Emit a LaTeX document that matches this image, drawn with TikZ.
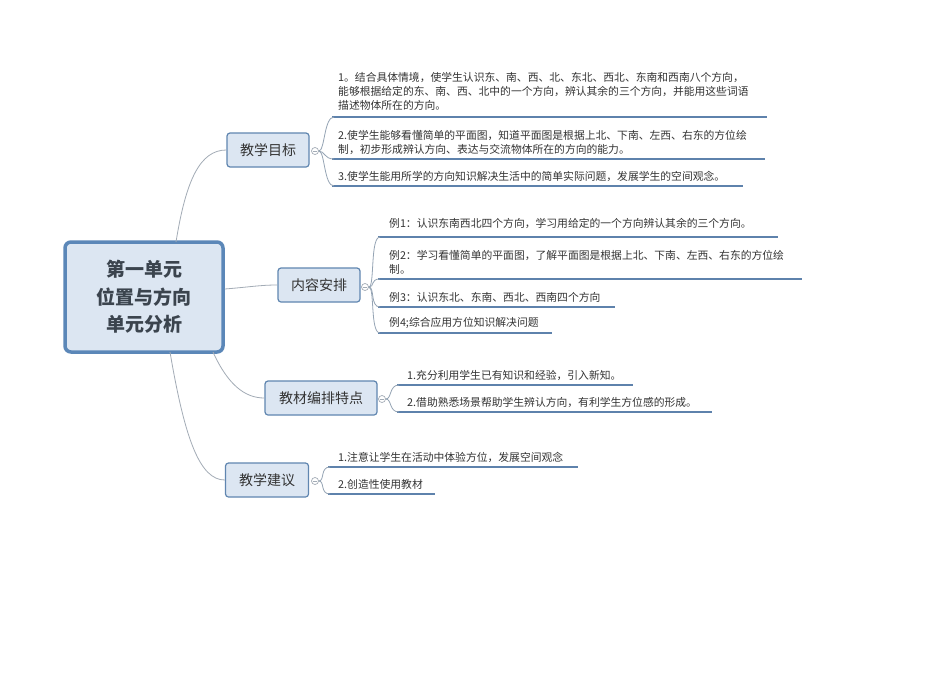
\documentclass[tikz,border=0pt]{standalone}
\usepackage{fontspec}
\newfontfamily\cjk{Noto Sans CJK SC}
\definecolor{boxfill}{HTML}{DCE6F2}
\definecolor{boxline}{HTML}{5B87B8}
\definecolor{uline}{HTML}{5E82AC}
\definecolor{conn}{HTML}{A3ACB6}
\definecolor{txt}{HTML}{333333}
\tikzset{
  rootbox/.style={draw=boxline, line width=3.5pt, fill=boxfill, rounded corners=6pt,
    minimum width=158pt, minimum height=110pt, align=center, font=\cjk\fontsize{19}{27.5}\selectfont\bfseries, text=txt!80!boxline},
  branchbox/.style={draw=boxline!85!gray, line width=1.2pt, fill=boxfill, rounded corners=3pt,
    minimum height=34pt, inner xsep=9pt, font=\cjk\fontsize{14}{16}\selectfont, text=txt},
  leaf/.style={anchor=south west, inner xsep=6pt, inner ysep=4.5pt, align=left,
    font=\cjk\fontsize{10.8}{14}\selectfont, text=txt},
  uln/.style={draw=uline, line width=2.2pt},
  conline/.style={draw=conn, line width=0.8pt},
  brk/.style={draw=conn!80!uline, line width=0.8pt},
  fold/.style={circle, draw=conn, line width=0.7pt, fill=white, minimum size=7pt, inner sep=0pt,
    path picture={\draw[conn, line width=0.6pt] ([xshift=-2pt]path picture bounding box.center) -- ([xshift=2pt]path picture bounding box.center);}},
}
\begin{document}
\begin{tikzpicture}[x=1pt,y=-1pt]
\useasboundingbox[fill=white] (0,0) rectangle (950,672);

% root
\node[rootbox] (root) at (144,297) {第一单元\\位置与方向\\单元分析};

% branches
\node[branchbox, minimum width=82pt] (b1) at (268,150) {教学目标};
\node[branchbox, minimum width=82pt] (b2) at (319,285) {内容安排};
\node[branchbox, minimum width=112pt] (b3) at (321,398) {教材编排特点};
\node[branchbox, minimum width=83pt] (b4) at (267,480) {教学建议};

\draw[conline] (176,242) .. controls (186,180) and (200,150) .. (b1.west);
\draw[conline] (root.east |- 0,289) .. controls (250,287) and (260,285) .. (b2.west);
\draw[conline] (213,352) .. controls (228,385) and (245,398) .. (b3.west);
\draw[conline] (170,352) .. controls (185,440) and (200,480) .. (b4.west);

% fold markers
\node[fold] (f1) at (315,151) {};
\node[fold] (f2) at (365,287) {};
\node[fold] (f3) at (382,399) {};
\node[fold] (f4) at (315,481) {};

% leaves of b1
\node[leaf, text width=423pt, inner ysep=6.5pt] (l11) at (332,117) {1。结合具体情境，使学生认识东、南、西、北、东北、西北、东南和西南八个方向，\\能够根据给定的东、南、西、北中的一个方向，辨认其余的三个方向，并能用这些词语\\描述物体所在的方向。};
\node[leaf, text width=421pt] (l12) at (332,159) {2.使学生能够看懂简单的平面图，知道平面图是根据上北、下南、左西、右东的方位绘\\制，初步形成辨认方向、表达与交流物体所在的方向的能力。};
\node[leaf, text width=399pt] (l13) at (332,186) {3.使学生能用所学的方向知识解决生活中的简单实际问题，发展学生的空间观念。};

% leaves of b2
\node[leaf, text width=378pt, inner xsep=11pt, inner ysep=8pt] (l21) at (378,237) {例1：认识东南西北四个方向，学习用给定的一个方向辨认其余的三个方向。};
\node[leaf, text width=402pt, inner xsep=11pt] (l22) at (378,279) {例2：学习看懂简单的平面图，了解平面图是根据上北、下南、左西、右东的方位绘\\制。};
\node[leaf, text width=215pt, inner xsep=11pt] (l23) at (378,307) {例3：认识东北、东南、西北、西南四个方向};
\node[leaf, text width=152pt, inner xsep=11pt] (l24) at (378,333) {例4;综合应用方位知识解决问题};

% leaves of b3
\node[leaf, text width=216pt, inner xsep=10pt] (l31) at (397,385) {1.充分利用学生已有知识和经验，引入新知。};
\node[leaf, text width=295pt, inner xsep=10pt] (l32) at (397,412) {2.借助熟悉场景帮助学生辨认方向，有利学生方位感的形成。};

% leaves of b4
\node[leaf, text width=230pt, inner xsep=10pt] (l41) at (328,467) {1.注意让学生在活动中体验方位，发展空间观念};
\node[leaf, text width=87pt, inner xsep=10pt] (l42) at (328,494) {2.创造性使用教材};

% underlines
\foreach \n in {l11,l12,l13,l21,l22,l23,l24,l31,l32,l41,l42}
  \draw[uln] (\n.south west) -- (\n.south east);

% brackets
\foreach \f/\n in {f1/l11,f1/l12,f1/l13}
  \draw[brk] (\f.east) .. controls ([xshift=6pt]\f.east) and ([xshift=-8pt]\n.south west) .. ([xshift=2pt]\n.south west);
\foreach \f/\n in {f2/l21,f2/l22,f2/l23,f2/l24}
  \draw[brk] (\f.east) .. controls ([xshift=6pt]\f.east) and ([xshift=-8pt]\n.south west) .. ([xshift=2pt]\n.south west);
\foreach \f/\n in {f3/l31,f3/l32}
  \draw[brk] (\f.east) .. controls ([xshift=6pt]\f.east) and ([xshift=-8pt]\n.south west) .. ([xshift=2pt]\n.south west);
\foreach \f/\n in {f4/l41,f4/l42}
  \draw[brk] (\f.east) .. controls ([xshift=6pt]\f.east) and ([xshift=-8pt]\n.south west) .. ([xshift=2pt]\n.south west);
\end{tikzpicture}
\end{document}
